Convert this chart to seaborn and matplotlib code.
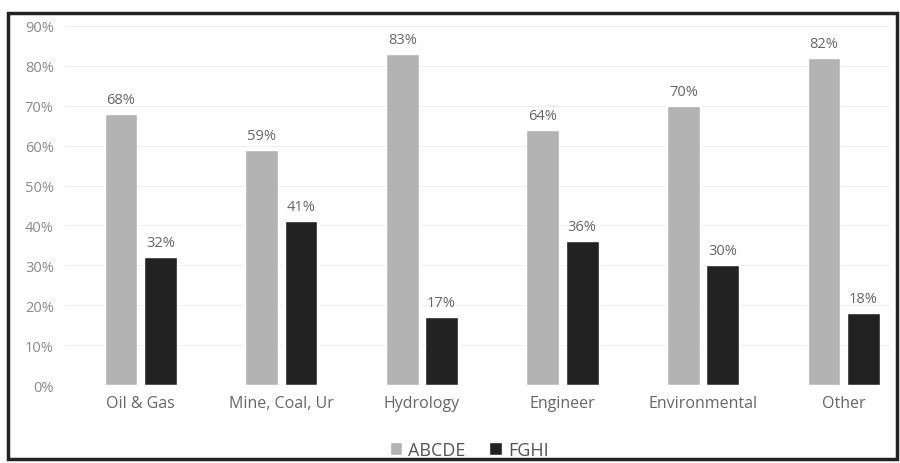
import matplotlib
matplotlib.use("Agg")
import matplotlib.pyplot as plt
import seaborn as sns
import pandas as pd
from matplotlib.patches import Rectangle

categories = ["Oil & Gas", "Mine, Coal, Ur", "Hydrology", "Engineer", "Environmental", "Other"]
abcde = [68, 59, 83, 64, 70, 82]
fghi = [32, 41, 17, 36, 30, 18]
series_names = ["ABCDE", "FGHI"]
yticks = [0, 10, 20, 30, 40, 50, 60, 70, 80, 90]

df = pd.DataFrame({
    "category": categories * 2,
    "value": abcde + fghi,
    "series": [series_names[0]] * len(categories) + [series_names[1]] * len(categories),
})

sns.set_theme(style="white")
plt.rcParams["font.family"] = ["Open Sans", "DejaVu Sans"]

fig = plt.figure(figsize=(9, 4.64), dpi=100)
ax = fig.add_axes([0.072, 0.168, 0.917, 0.774])

palette = {"ABCDE": "#b3b3b3", "FGHI": "#222222"}
sns.barplot(data=df, x="category", y="value", hue="series", palette=palette,
            width=0.56, gap=0.17, ax=ax, saturation=1)

ax.set_ylim(0, 90)
ax.set_yticks(yticks)
ax.set_yticklabels([f"{t}%" for t in yticks], color="#8a8a8a", fontsize=10.5)
ax.set_xlabel("")
ax.set_ylabel("")
ax.tick_params(axis="x", colors="#666666", labelsize=11.5, length=0, pad=7)
ax.tick_params(axis="y", length=0, pad=8)
ax.yaxis.grid(True, color="#eeeeee", linewidth=0.8)
ax.set_axisbelow(True)
for s in ax.spines.values():
    s.set_visible(False)
ax.axhline(0, color="#dddddd", linewidth=0.8)
ax.set_xlim(-0.54, 5.33)

for c in ax.containers:
    ax.bar_label(c, fmt="%d%%", padding=5, color="#666666", fontsize=10.5)

handles, labels = ax.get_legend_handles_labels()
ax.legend(handles, labels, loc="upper center", bbox_to_anchor=(0.49, -0.11),
          ncol=2, frameon=False, fontsize=13, handlelength=0.7, handleheight=0.7,
          handletextpad=0.35, columnspacing=1.3, labelcolor="#555555")

fig.patches.append(Rectangle((0.009, 0.008), 0.988, 0.961, transform=fig.transFigure,
                             fill=False, edgecolor="#222222", linewidth=2.5))

fig.savefig("out.png", dpi=100)
